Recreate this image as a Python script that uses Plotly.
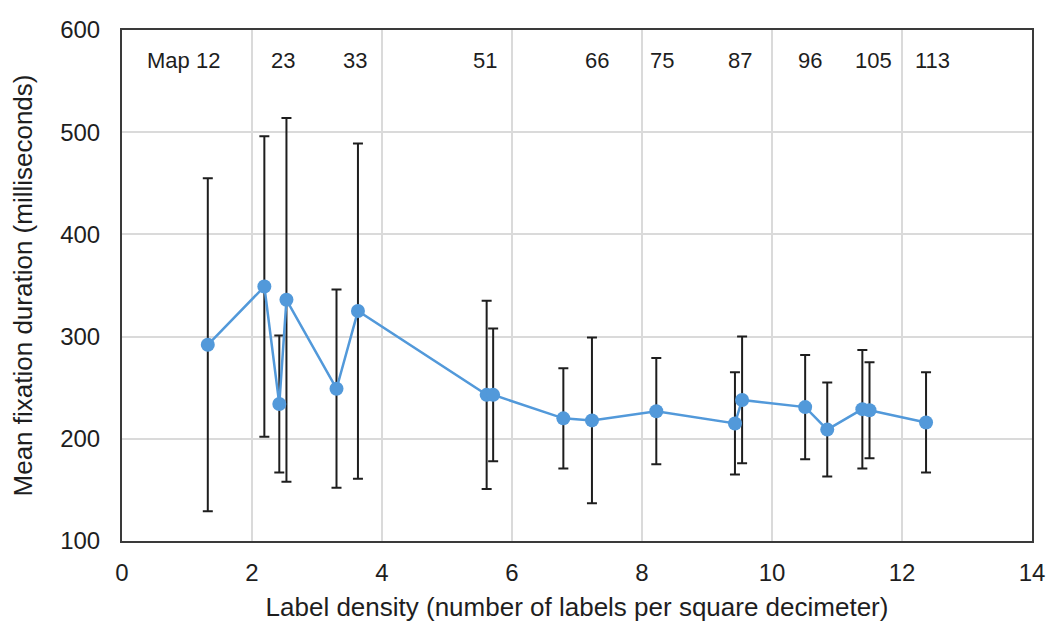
import plotly.graph_objects as go

# Label density (labels per dm²) and mean fixation duration (ms) per map
density = [1.32, 2.19, 2.42, 2.53, 3.30, 3.63, 5.61, 5.71, 6.79, 7.23,
           8.22, 9.43, 9.54, 10.51, 10.85, 11.39, 11.50, 12.37]
mean_fix = [292, 349, 234, 336, 249, 325, 243, 243, 220, 218,
            227, 215, 238, 231, 209, 229, 228, 216]
sd_fix = [163, 147, 67, 178, 97, 164, 92, 65, 49, 81,
          52, 50, 62, 51, 46, 58, 47, 49]

# Map identifiers written along the top of the plot
map_labels = ["Map 12", "23", "33", "51", "66", "75", "87", "96", "105", "113"]
map_label_x = [0.94, 2.47, 3.59, 5.59, 7.30, 8.31, 9.51, 10.58, 11.56, 12.47]
map_label_y = 570

x_ticks = list(range(0, 15, 2))
y_ticks = list(range(100, 601, 100))

FONT = "Liberation Sans, Arial, sans-serif"
BLUE = "#5299da"
INK = "#1e1e1e"

fig = go.Figure()
fig.add_trace(go.Scatter(
    x=density, y=mean_fix,
    mode="lines+markers",
    line=dict(color=BLUE, width=2.5),
    marker=dict(color=BLUE, size=14),
    error_y=dict(type="data", array=sd_fix, visible=True,
                 color=INK, thickness=2, width=5),
    showlegend=False,
))

for txt, xv in zip(map_labels, map_label_x):
    fig.add_annotation(x=xv, y=map_label_y, xref="x", yref="y", text=txt,
                       showarrow=False, font=dict(family=FONT, size=22, color=INK))

axis_common = dict(
    showgrid=True, gridcolor="#dadada", gridwidth=1.5,
    showline=True, linecolor="#3a3a3a", linewidth=2, mirror=True,
    zeroline=False, ticks="", automargin=False,
    tickfont=dict(family=FONT, size=24, color=INK),
)

fig.update_layout(
    width=1048, height=627,
    margin=dict(l=122, r=16, t=30, b=86),
    paper_bgcolor="white", plot_bgcolor="white",
    xaxis=dict(range=[0, 14], tickvals=x_ticks, ticklabelstandoff=9,
               title=dict(text="Label density (number of labels per square decimeter)",
                          font=dict(family=FONT, size=26, color=INK), standoff=13),
               **axis_common),
    yaxis=dict(range=[100, 600], tickvals=y_ticks, ticklabelstandoff=15,
               title=dict(text="Mean fixation duration (milliseconds)",
                          font=dict(family=FONT, size=26, color=INK), standoff=20),
               **axis_common),
)

fig.write_html("out.html")
